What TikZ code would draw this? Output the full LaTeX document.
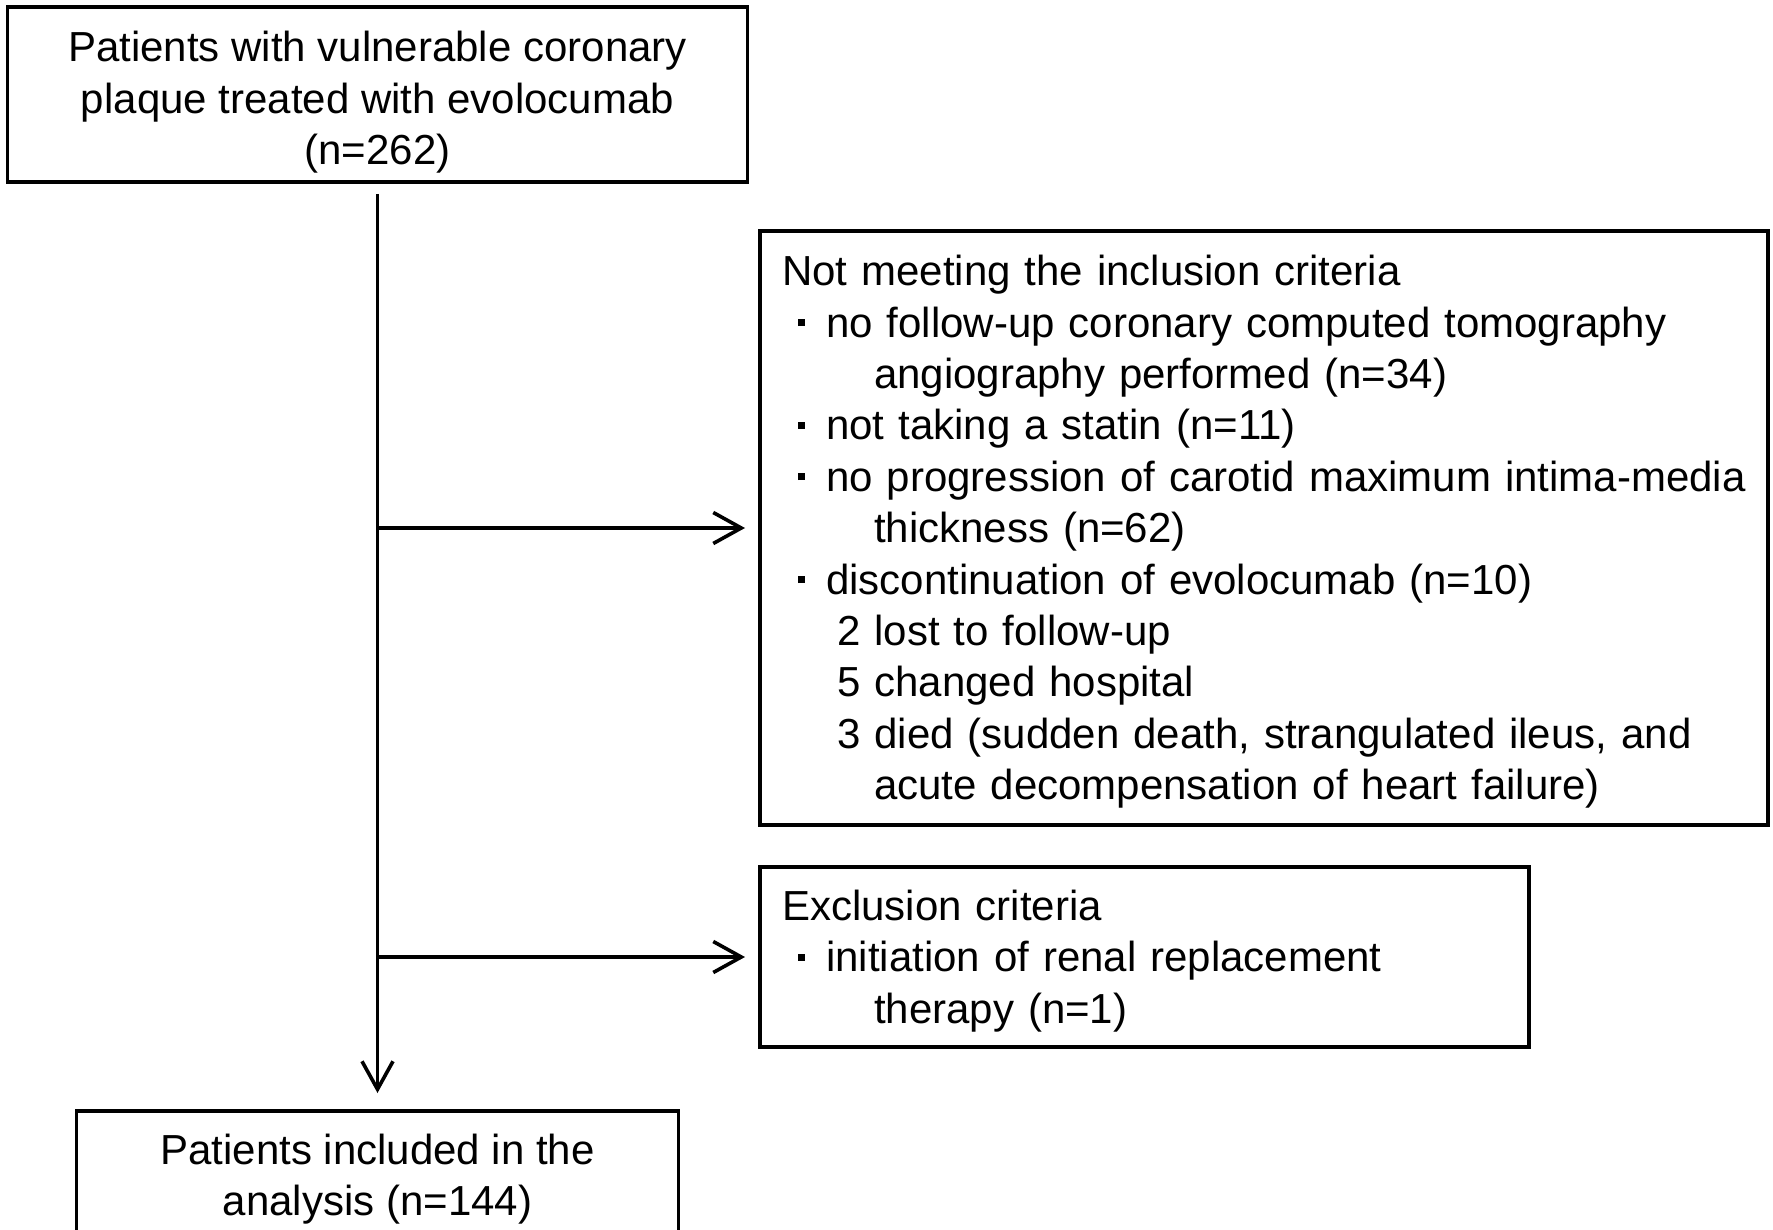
\documentclass[tikz,border=0pt]{standalone}
\usepackage{fontspec}
\setmainfont{Liberation Sans}
\usetikzlibrary{arrows.meta,positioning}
\newcommand{\critem}{\hspace*{8pt}\rule[5.5pt]{3.5pt}{3.5pt}\hspace{10.5pt}}
\newcommand{\contind}{\hspace*{46pt}}
\newcommand{\subind}{\hspace*{27.5pt}}
\newcommand{\lowstrut}[1]{\rule{0pt}{#1}}

\begin{document}
\begin{tikzpicture}[x=0.5pt,y=-0.5pt,
  box/.style={draw,line width=1.8pt,outer sep=0pt,font=\fontsize{21}{25.7}\selectfont},
  mainbox/.style={box,align=center},
  listbox/.style={box,align=left,inner xsep=11pt},
  arr/.style={-{Straight Barb[length=14pt,width=15.5pt]},line width=1.8pt}]
  \useasboundingbox (0,0) rectangle (1773,1230);
  \node[mainbox,minimum width=370pt,minimum height=87.5pt] (start) at (377.5,94.5) {\lowstrut{23pt}Patients with vulnerable coronary\\plaque treated with evolocumab\\(n=262)};
  \node[listbox,text width=482pt,minimum height=297pt] (incl) at (1264,528) {\lowstrut{19pt}Not meeting the inclusion criteria\\
    \critem no follow-up coronary computed tomography\\
    \contind angiography performed (n=34)\\
    \critem not taking a statin (n=11)\\
    \critem no progression of carotid maximum intima-media\\
    \contind thickness (n=62)\\
    \critem discontinuation of evolocumab (n=10)\\
    \subind 2 lost to follow-up\\
    \subind 5 changed hospital\\
    \subind 3 died (sudden death, strangulated ileus, and\\
    \contind acute decompensation of heart failure)};
  \node[listbox,text width=362.5pt,minimum height=90pt] (excl) at (1144.5,957) {\lowstrut{19pt}Exclusion criteria\\
    \critem initiation of renal replacement\\
    \contind therapy (n=1)};
  \node[mainbox,minimum width=301pt,minimum height=65.5pt] (final) at (377.5,1176.5) {\lowstrut{18pt}Patients included in the\\analysis (n=144)};
  \draw[arr,shorten <=6pt,shorten >=9pt] (start.south) -- (final.north);
  \draw[arr,shorten >=7.5pt] (start.south |- incl.west) -- (incl.west);
  \draw[arr,shorten >=7.5pt] (start.south |- excl.west) -- (excl.west);
\end{tikzpicture}
\end{document}
